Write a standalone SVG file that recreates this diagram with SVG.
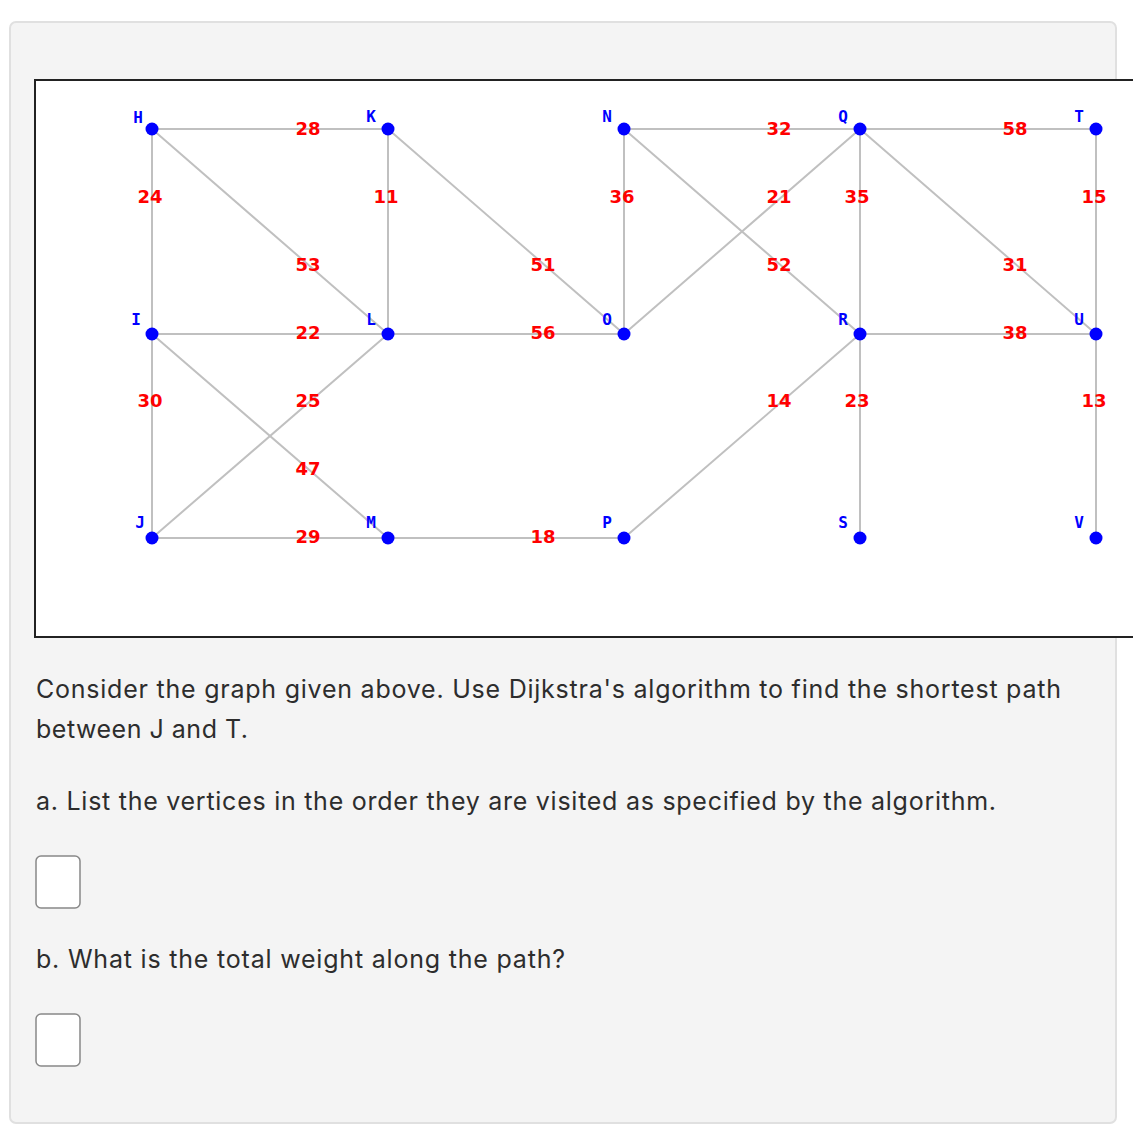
<svg xmlns="http://www.w3.org/2000/svg" width="1133" height="1133" viewBox="0 0 1133 1133">
<style>
.e{stroke:#c0c0c0;stroke-width:2;fill:none}
.w{font-family:"DejaVu Sans",sans-serif;font-weight:bold;font-size:18px;fill:#ff0000;text-anchor:middle}
.v{font-family:"DejaVu Sans Mono",monospace;font-weight:bold;font-size:16px;fill:#0000ff;text-anchor:middle}
.d{fill:#0000ff}
.t{font-family:"Inter","Liberation Sans",sans-serif;font-size:25px;fill:#2d2d2d}
.b{fill:#fff;stroke:#888;stroke-width:1.5}
</style>
<rect x="10" y="22" width="1106" height="1101" rx="6" fill="#f4f4f4" stroke="#e0e0e0" stroke-width="2"/>
<rect x="35" y="80" width="1110" height="557" fill="#fff" stroke="#222" stroke-width="2"/>
<g id="edges">
<line class="e" x1="152" y1="129" x2="388" y2="129"/>
<line class="e" x1="624" y1="129" x2="1096" y2="129"/>
<line class="e" x1="152" y1="129" x2="152" y2="538"/>
<line class="e" x1="388" y1="129" x2="388" y2="334"/>
<line class="e" x1="624" y1="129" x2="624" y2="334"/>
<line class="e" x1="860" y1="129" x2="860" y2="538"/>
<line class="e" x1="1096" y1="129" x2="1096" y2="538"/>
<line class="e" x1="152" y1="129" x2="388" y2="334"/>
<line class="e" x1="388" y1="129" x2="624" y2="334"/>
<line class="e" x1="624" y1="129" x2="860" y2="334"/>
<line class="e" x1="624" y1="334" x2="860" y2="129"/>
<line class="e" x1="860" y1="129" x2="1096" y2="334"/>
<line class="e" x1="152" y1="334" x2="624" y2="334"/>
<line class="e" x1="860" y1="334" x2="1096" y2="334"/>
<line class="e" x1="152" y1="334" x2="388" y2="538"/>
<line class="e" x1="152" y1="538" x2="388" y2="334"/>
<line class="e" x1="624" y1="538" x2="860" y2="334"/>
<line class="e" x1="152" y1="538" x2="624" y2="538"/>
</g>
<g id="weights">
<text class="w" x="308" y="135">28</text><text class="w" x="779" y="135">32</text><text class="w" x="1015" y="135">58</text>
<text class="w" x="150" y="203">24</text><text class="w" x="386" y="203">11</text><text class="w" x="622" y="203">36</text><text class="w" x="779" y="203">21</text><text class="w" x="857" y="203">35</text><text class="w" x="1094" y="203">15</text>
<text class="w" x="308" y="271">53</text><text class="w" x="543" y="271">51</text><text class="w" x="779" y="271">52</text><text class="w" x="1015" y="271">31</text>
<text class="w" x="308" y="339">22</text><text class="w" x="543" y="339">56</text><text class="w" x="1015" y="339">38</text>
<text class="w" x="150" y="407">30</text><text class="w" x="308" y="407">25</text><text class="w" x="779" y="407">14</text><text class="w" x="857" y="407">23</text><text class="w" x="1094" y="407">13</text>
<text class="w" x="308" y="475">47</text>
<text class="w" x="308" y="543">29</text><text class="w" x="543" y="543">18</text>
</g>
<g id="H"><circle class="d" cx="152" cy="129" r="6.5"/><text class="v" x="138" y="123">H</text></g>
<g id="K"><circle class="d" cx="388" cy="129" r="6.5"/><text class="v" x="371" y="122">K</text></g>
<g id="N"><circle class="d" cx="624" cy="129" r="6.5"/><text class="v" x="607" y="122">N</text></g>
<g id="Q"><circle class="d" cx="860" cy="129" r="6.5"/><text class="v" x="843" y="122">Q</text></g>
<g id="T"><circle class="d" cx="1096" cy="129" r="6.5"/><text class="v" x="1079" y="122">T</text></g>
<g id="I"><circle class="d" cx="152" cy="334" r="6.5"/><text class="v" x="136" y="325">I</text></g>
<g id="L"><circle class="d" cx="388" cy="334" r="6.5"/><text class="v" x="371" y="325">L</text></g>
<g id="O"><circle class="d" cx="624" cy="334" r="6.5"/><text class="v" x="607" y="325">O</text></g>
<g id="R"><circle class="d" cx="860" cy="334" r="6.5"/><text class="v" x="843" y="325">R</text></g>
<g id="U"><circle class="d" cx="1096" cy="334" r="6.5"/><text class="v" x="1079" y="325">U</text></g>
<g id="J"><circle class="d" cx="152" cy="538" r="6.5"/><text class="v" x="140" y="528">J</text></g>
<g id="M"><circle class="d" cx="388" cy="538" r="6.5"/><text class="v" x="371" y="528">M</text></g>
<g id="P"><circle class="d" cx="624" cy="538" r="6.5"/><text class="v" x="607" y="528">P</text></g>
<g id="S"><circle class="d" cx="860" cy="538" r="6.5"/><text class="v" x="843" y="528">S</text></g>
<g id="V"><circle class="d" cx="1096" cy="538" r="6.5"/><text class="v" x="1079" y="528">V</text></g>
<text class="t" x="36" y="698" textLength="1025" lengthAdjust="spacing">Consider the graph given above. Use Dijkstra's algorithm to find the shortest path</text>
<text class="t" x="36" y="738" textLength="212" lengthAdjust="spacing">between J and T.</text>
<text class="t" x="36" y="810" textLength="960" lengthAdjust="spacing">a. List the vertices in the order they are visited as specified by the algorithm.</text>
<rect class="b" x="36" y="856" width="44" height="52" rx="5"/>
<text class="t" x="36" y="968" textLength="529" lengthAdjust="spacing">b. What is the total weight along the path?</text>
<rect class="b" x="36" y="1014" width="44" height="52" rx="5"/>
</svg>
